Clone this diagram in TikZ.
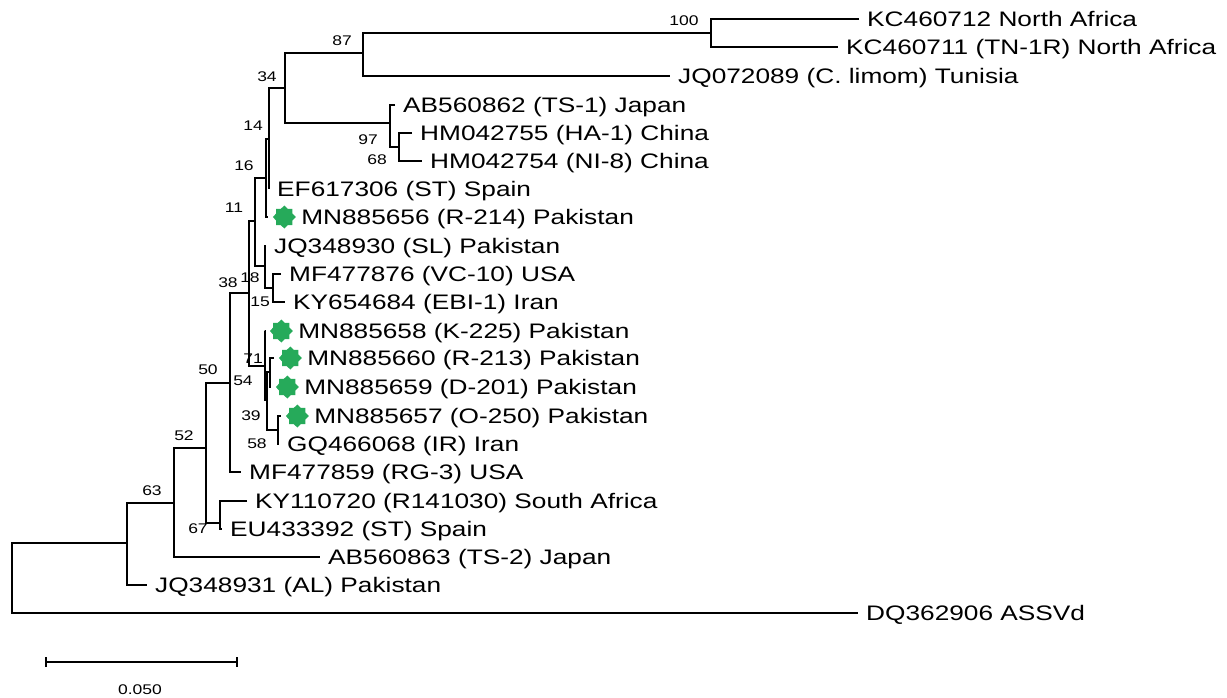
\documentclass[tikz,border=0pt]{standalone}
\usepackage{fontspec}
\setmainfont{Liberation Sans}
\usepackage{graphicx}
\usetikzlibrary{positioning,shapes.geometric,arrows.meta}
\definecolor{pakgreen}{RGB}{38,170,90}
\newcommand{\wide}[1]{\scalebox{1.25}[1]{#1}}

\begin{document}
\begin{tikzpicture}[x=1pt, y=-1pt,
    brline/.style={line width=2.2pt, line join=miter},
    taxon/.style={anchor=west, inner sep=0pt, font=\fontsize{21}{21}\selectfont,
                  text height=15pt, text depth=0pt},
    boot/.style={inner sep=0pt, font=\fontsize{14}{14}\selectfont},
    gstar/.style={star, star points=8, star point ratio=1.3, fill=pakgreen,
                  draw=none, minimum size=23pt, inner sep=0pt}
]
\useasboundingbox (0,0) rectangle (1227,697);

% internal nodes
\coordinate (root) at (12,578);
\coordinate (n63)  at (127,543);
\coordinate (n52)  at (174,503);
\coordinate (n50)  at (206,448);
\coordinate (n67)  at (220,523);
\coordinate (n54)  at (230,383);
\coordinate (n38)  at (249,293);
\coordinate (n11)  at (255,221);
\coordinate (n16)  at (266,178);
\coordinate (n14)  at (269,139);
\coordinate (n34)  at (285,88);
\coordinate (n87)  at (363,53);
\coordinate (n100) at (711,33);
\coordinate (n97)  at (390,123);
\coordinate (n68)  at (399,147);
\coordinate (n18)  at (265,266);
\coordinate (n15)  at (273,288);
\coordinate (n71)  at (265,366);
\coordinate (n39)  at (267,400);
\coordinate (nu)   at (270,372);
\coordinate (n58)  at (278,430);

% tips
\coordinate (t1)  at (859,19);
\coordinate (t2)  at (838,47);
\coordinate (t3)  at (670,76);
\coordinate (t4)  at (395,105);
\coordinate (t5)  at (412,133);
\coordinate (t6)  at (422,161);
\coordinate (t7)  at (269,189);
\coordinate (t8)  at (267.5,217);
\coordinate (t9)  at (266,246);
\coordinate (t10) at (281,274);
\coordinate (t11) at (285,302);
\coordinate (t12) at (264.5,331);
\coordinate (t13) at (273.5,358);
\coordinate (t14) at (270.5,387);
\coordinate (t15) at (280.5,416);
\coordinate (t16) at (279,444);
\coordinate (t17) at (241,472);
\coordinate (t18) at (247,501);
\coordinate (t19) at (222,529);
\coordinate (t20) at (320,557);
\coordinate (t21) at (147,585);
\coordinate (t22) at (858,613);

\draw[brline] (n63)  -| (root) |- (t22);
\draw[brline] (n52)  -| (n63)  |- (t21);
\draw[brline] (n50)  -| (n52)  |- (t20);
\draw[brline] (n54)  -| (n50)  |- (n67);
\draw[brline] (t18)  -| (n67)  |- (t19);
\draw[brline] (n38)  -| (n54)  |- (t17);
\draw[brline] (n11)  -| (n38)  |- (n71);
\draw[brline] (n16)  -| (n11)  |- (n18);
\draw[brline] (n14)  -| (n16)  |- (t8);
\draw[brline] (n34)  -| (n14)  |- (t7);
\draw[brline] (n87)  -| (n34)  |- (n97);
\draw[brline] (n100) -| (n87)  |- (t3);
\draw[brline] (t1)   -| (n100) |- (t2);
\draw[brline] (t4)   -| (n97)  |- (n68);
\draw[brline] (t5)   -| (n68)  |- (t6);
\draw[brline] (t9)   -| (n18)  |- (n15);
\draw[brline] (t10)  -| (n15)  |- (t11);
\draw[brline] (t12)  -| (n71)  |- (n39);
\draw[brline] (nu)   -| (n39)  |- (n58);
\draw[brline] (t13)  -| (nu)   |- (t14);
\draw[brline] (t15)  -| (n58)  |- (t16);

% taxa
\node[taxon, right=8pt of t1]  (l1)  {\wide{KC460712 North Africa}};
\node[taxon, right=8pt of t2]  (l2)  {\wide{KC460711 (TN-1R) North Africa}};
\node[taxon, right=8pt of t3]  (l3)  {\wide{JQ072089 (C. limom) Tunisia}};
\node[taxon, right=8pt of t4]  (l4)  {\wide{AB560862 (TS-1) Japan}};
\node[taxon, right=8pt of t5]  (l5)  {\wide{HM042755 (HA-1) China}};
\node[taxon, right=8pt of t6]  (l6)  {\wide{HM042754 (NI-8) China}};
\node[taxon, right=8pt of t7]  (l7)  {\wide{EF617306 (ST) Spain}};
\node[gstar, right=5pt of t8]  (s8)  {};
\node[taxon, right=5pt of s8]  (l8)  {\wide{MN885656 (R-214) Pakistan}};
\node[taxon, right=8pt of t9]  (l9)  {\wide{JQ348930 (SL) Pakistan}};
\node[taxon, right=8pt of t10] (l10) {\wide{MF477876 (VC-10) USA}};
\node[taxon, right=8pt of t11] (l11) {\wide{KY654684 (EBI-1) Iran}};
\node[gstar, right=5pt of t12] (s12) {};
\node[taxon, right=5pt of s12] (l12) {\wide{MN885658 (K-225) Pakistan}};
\node[gstar, right=5pt of t13] (s13) {};
\node[taxon, right=5pt of s13] (l13) {\wide{MN885660 (R-213) Pakistan}};
\node[gstar, right=5pt of t14] (s14) {};
\node[taxon, right=5pt of s14] (l14) {\wide{MN885659 (D-201) Pakistan}};
\node[gstar, right=5pt of t15] (s15) {};
\node[taxon, right=5pt of s15] (l15) {\wide{MN885657 (O-250) Pakistan}};
\node[taxon, right=8pt of t16] (l16) {\wide{GQ466068 (IR) Iran}};
\node[taxon, right=8pt of t17] (l17) {\wide{MF477859 (RG-3) USA}};
\node[taxon, right=8pt of t18] (l18) {\wide{KY110720 (R141030) South Africa}};
\node[taxon, right=8pt of t19] (l19) {\wide{EU433392 (ST) Spain}};
\node[taxon, right=8pt of t20] (l20) {\wide{AB560863 (TS-2) Japan}};
\node[taxon, right=8pt of t21] (l21) {\wide{JQ348931 (AL) Pakistan}};
\node[taxon, right=8pt of t22] (l22) {\wide{DQ362906 ASSVd}};

% bootstrap values
\node[boot] (b100) at (684,21)  {\wide{100}};
\node[boot] (b87)  at (342,41)  {\wide{87}};
\node[boot] (b34)  at (267,77)  {\wide{34}};
\node[boot] (b97)  at (368,140) {\wide{97}};
\node[boot] (b68)  at (377,160) {\wide{68}};
\node[boot] (b14)  at (253,126) {\wide{14}};
\node[boot] (b16)  at (244,166) {\wide{16}};
\node[boot] (b11)  at (234,208) {\wide{11}};
\node[boot] (b38)  at (228,283) {\wide{38}};
\node[boot] (b18)  at (250,278) {\wide{18}};
\node[boot] (b15)  at (260,302) {\wide{15}};
\node[boot] (b71)  at (253,359) {\wide{71}};
\node[boot] (b54)  at (243,381) {\wide{54}};
\node[boot] (b39)  at (251,416) {\wide{39}};
\node[boot] (b58)  at (257,444) {\wide{58}};
\node[boot] (b50)  at (208,370) {\wide{50}};
\node[boot] (b52)  at (184,436) {\wide{52}};
\node[boot] (b63)  at (152,491) {\wide{63}};
\node[boot] (b67)  at (198,529) {\wide{67}};

% scale bar
\coordinate (sbl) at (45,662);
\coordinate (sbr) at (238,662);
\draw[line width=2.2pt, {Bar[width=10pt]}-{Bar[width=10pt]}] (sbl) -- (sbr);
\node[boot] (sbtext) at (140,690) {\wide{0.050}};
\end{tikzpicture}
\end{document}
